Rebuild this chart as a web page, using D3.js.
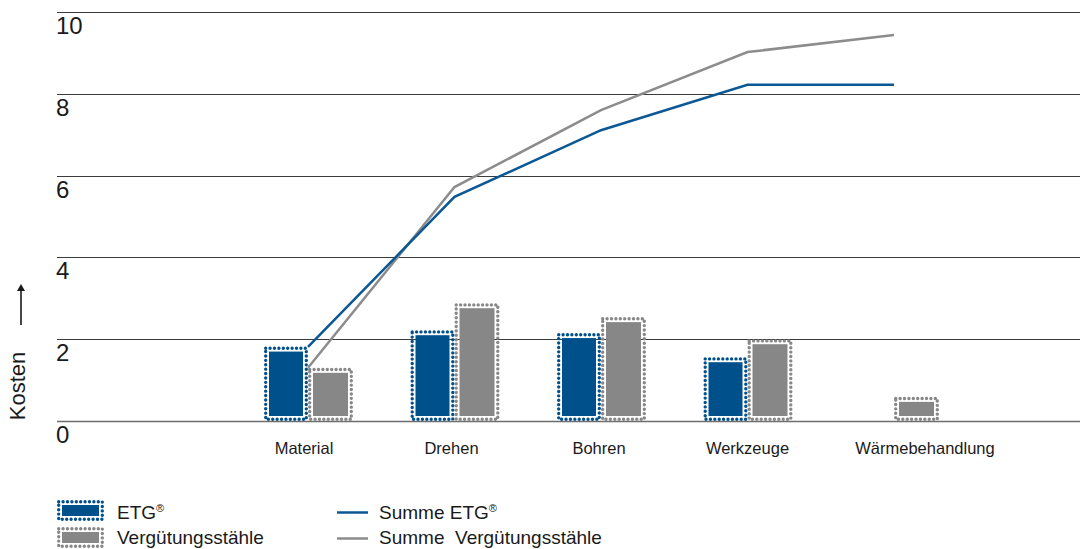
<!DOCTYPE html>
<html>
<head>
<meta charset="utf-8">
<script src="https://cdn.jsdelivr.net/npm/d3@7/dist/d3.min.js"></script>
<style>
  html, body { margin: 0; padding: 0; background: #fff; }
  svg { display: block; font-family: "Liberation Sans", Arial, Helvetica, sans-serif; }
</style>
</head>
<body>
<svg id="chart" width="1086" height="549"></svg>
<script>
// Kostenvergleich je Fertigungsschritt
const categories = ["Material", "Drehen", "Bohren", "Werkzeuge", "Wärmebehandlung"];
const etgCosts = [1.82, 2.22, 2.15, 1.56, null];
const vergCosts = [1.30, 2.88, 2.54, 2.00, 0.59];
const sumEtg = [1.81, 5.48, 7.11, 8.22, 8.22];
const sumVerg = [1.30, 5.72, 7.60, 9.02, 9.44];
const yTicks = [0, 2, 4, 6, 8, 10];

const BLUE = "#00508c";
const GRAY = "#878787";
const LINE_BLUE = "#0b5895";
const LINE_GRAY = "#8c8c8c";
const TEXT = "#1a1a1a";

const svg = d3.select("#chart");

const y = d3.scaleLinear().domain([0, 10]).range([421, 12]);
const x = d3.scalePoint().domain(categories).range([308, 894]);
const barW = 44;

// Gridlines with labels sitting under each line
const grid = svg.append("g");
yTicks.forEach(t => {
  grid.append("line")
    .attr("x1", 57).attr("x2", 1080)
    .attr("y1", Math.round(y(t)) + 0.5).attr("y2", Math.round(y(t)) + 0.5)
    .attr("stroke", t === 0 ? "#6e6e6e" : "#3c3c3c")
    .attr("stroke-width", t === 0 ? 1.6 : 1);
  grid.append("text")
    .attr("x", 56).attr("y", y(t) + 22)
    .attr("font-size", 24).attr("fill", TEXT)
    .text(t);
});

// Axis title with arrow
const yTitle = svg.append("g").attr("transform", "translate(25,386) rotate(-90)");
yTitle.append("text")
  .attr("x", 0).attr("y", 0)
  .attr("text-anchor", "middle")
  .attr("font-size", 22).attr("fill", TEXT)
  .text("Kosten");
yTitle.append("line")
  .attr("x1", 61).attr("x2", 100).attr("y1", -4).attr("y2", -4)
  .attr("stroke", TEXT).attr("stroke-width", 1.6);
yTitle.append("path")
  .attr("d", "M102,-4 L95,-8 L95,0 Z")
  .attr("fill", TEXT);

// Bar with dotted frame
function dottedBar(g, x0, yTop, yBase, w, color) {
  const h = yBase - yTop;
  g.append("rect")
    .attr("x", x0 + 1.7).attr("y", yTop + 1.7)
    .attr("width", w - 3.4).attr("height", h - 3.4)
    .attr("fill", "none")
    .attr("stroke", color).attr("stroke-width", 3.4)
    .attr("stroke-linecap", "round")
    .attr("stroke-dasharray", "0 4.4");
  g.append("rect")
    .attr("x", x0 + 5).attr("y", yTop + 5)
    .attr("width", Math.max(0, w - 10)).attr("height", Math.max(0, h - 10))
    .attr("fill", color);
}

const bars = svg.append("g");
categories.forEach((c, i) => {
  const cx = x(c);
  if (etgCosts[i] != null) dottedBar(bars, cx - barW, y(etgCosts[i]), y(0), barW, BLUE);
  if (vergCosts[i] != null) dottedBar(bars, cx, y(vergCosts[i]), y(0), barW + 1, GRAY);
});

// Cumulative lines
const line = d3.line().x((d, i) => x(categories[i])).y(d => y(d));
svg.append("path").datum(sumVerg)
  .attr("d", line).attr("fill", "none")
  .attr("stroke", LINE_GRAY).attr("stroke-width", 2.5);
svg.append("path").datum(sumEtg)
  .attr("d", line).attr("fill", "none")
  .attr("stroke", LINE_BLUE).attr("stroke-width", 2.5);

// Category labels
const labelShift = [-4, -3, -2, 0, 31];
categories.forEach((c, i) => {
  svg.append("text")
    .attr("x", x(c) + labelShift[i]).attr("y", 454)
    .attr("text-anchor", "middle")
    .attr("font-size", 16.5).attr("fill", TEXT)
    .text(c);
});

// Legend
const legend = svg.append("g");
dottedBar(legend, 57, 500, 521, 47, BLUE);
dottedBar(legend, 57, 527, 548, 47, GRAY);
legend.append("text").attr("x", 117).attr("y", 519).attr("font-size", 19).attr("fill", TEXT)
  .html("ETG<tspan dy='-7' font-size='11'>®</tspan>");
legend.append("text").attr("x", 117).attr("y", 544).attr("font-size", 19).attr("fill", TEXT)
  .text("Vergütungsstähle");
legend.append("line").attr("x1", 337).attr("x2", 368).attr("y1", 512.5).attr("y2", 512.5)
  .attr("stroke", LINE_BLUE).attr("stroke-width", 2.5);
legend.append("line").attr("x1", 337).attr("x2", 368).attr("y1", 538.5).attr("y2", 538.5)
  .attr("stroke", LINE_GRAY).attr("stroke-width", 2.5);
legend.append("text").attr("x", 379).attr("y", 519).attr("font-size", 19).attr("fill", TEXT)
  .html("Summe ETG<tspan dy='-7' font-size='11'>®</tspan>");
legend.append("text").attr("x", 379).attr("y", 544).attr("font-size", 19).attr("fill", TEXT)
  .attr("xml:space", "preserve").style("white-space", "pre")
  .text("Summe  Vergütungsstähle");
</script>
</body>
</html>
